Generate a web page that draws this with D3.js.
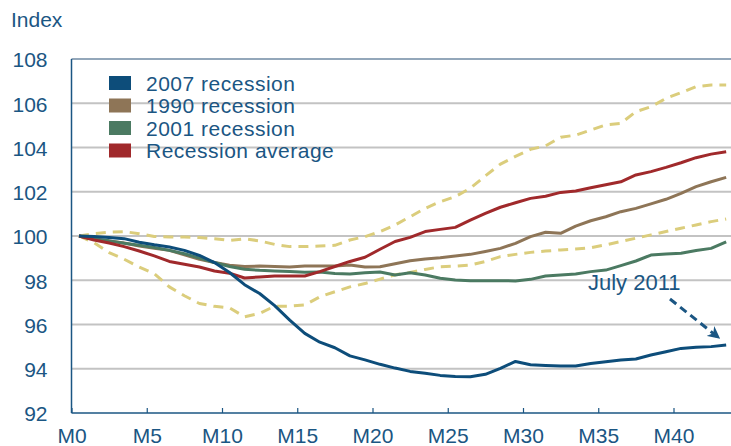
<!DOCTYPE html>
<html>
<head>
<meta charset="utf-8">
<script src="https://cdn.jsdelivr.net/npm/d3@7"></script>
<style>
  html, body { margin: 0; padding: 0; background: #fff; }
  svg { display: block; }
  text { font-family: "Liberation Sans", Arial, sans-serif; }
</style>
</head>
<body>
<svg id="chart" width="731" height="446"></svg>
<script>
// Employment index, months after business-cycle peak (peak = 100)
const months = d3.range(44); // M0 .. M43

const recession2007 = [100, 99.98, 99.93, 99.88, 99.72, 99.6, 99.5, 99.35, 99.12, 98.8,
  98.35, 97.8, 97.4, 96.85, 96.2, 95.6, 95.2, 94.95, 94.58, 94.4,
  94.2, 94.03, 93.88, 93.8, 93.7, 93.65, 93.64, 93.75, 94.02, 94.33,
  94.18, 94.15, 94.12, 94.12, 94.24, 94.32, 94.4, 94.44, 94.62, 94.77,
  94.92, 94.97, 95.0, 95.07];

const recession1990 = [100, 99.88, 99.78, 99.68, 99.55, 99.45, 99.35, 99.15, 98.95, 98.8,
  98.68, 98.62, 98.64, 98.62, 98.6, 98.64, 98.64, 98.64, 98.69, 98.6,
  98.61, 98.75, 98.88, 98.96, 99.02, 99.1, 99.17, 99.3, 99.44, 99.67,
  99.97, 100.17, 100.12, 100.45, 100.69, 100.87, 101.1, 101.25, 101.45, 101.66,
  101.93, 102.23, 102.45, 102.65];

const recession2001 = [100, 99.85, 99.78, 99.67, 99.58, 99.48, 99.35, 99.2, 99.0, 98.8,
  98.62, 98.5, 98.45, 98.42, 98.39, 98.36, 98.37, 98.31, 98.28, 98.34,
  98.37, 98.24, 98.34, 98.24, 98.09, 98.01, 97.98, 97.98, 97.98, 97.97,
  98.04, 98.19, 98.24, 98.28, 98.39, 98.46, 98.66, 98.87, 99.14, 99.19,
  99.22, 99.34, 99.44, 99.74];

const recessionAverage = [100, 99.82, 99.68, 99.52, 99.32, 99.1, 98.85, 98.72, 98.6, 98.42,
  98.32, 98.1, 98.15, 98.19, 98.19, 98.19, 98.39, 98.62, 98.85, 99.04,
  99.4, 99.75, 99.94, 100.2, 100.3, 100.39, 100.72, 101.02, 101.3, 101.5,
  101.7, 101.8, 101.97, 102.03, 102.18, 102.32, 102.45, 102.76, 102.91, 103.1,
  103.31, 103.54, 103.7, 103.81];

const rangeUpper = [100, 100.11, 100.17, 100.2, 100.1, 99.98, 99.96, 99.96, 99.93, 99.88,
  99.8, 99.87, 99.78, 99.62, 99.52, 99.52, 99.55, 99.58, 99.82, 99.97,
  100.2, 100.5, 100.87, 101.25, 101.55, 101.78, 102.16, 102.72, 103.25, 103.6,
  103.92, 104.07, 104.46, 104.56, 104.79, 105.02, 105.09, 105.62, 105.84, 106.22,
  106.48, 106.75, 106.82, 106.82];

const rangeLower = [100, 99.7, 99.25, 98.95, 98.6, 98.3, 97.7, 97.3, 96.95, 96.82,
  96.75, 96.35, 96.5, 96.83, 96.83, 96.88, 97.25, 97.48, 97.7, 97.85,
  98.05, 98.25, 98.35, 98.49, 98.61, 98.64, 98.69, 98.85, 99.07, 99.17,
  99.26, 99.32, 99.37, 99.41, 99.47, 99.6, 99.75, 99.9, 100.05, 100.2,
  100.35, 100.5, 100.65, 100.77];

const yTicks = [92, 94, 96, 98, 100, 102, 104, 106, 108];
const xTickMonths = [0, 5, 10, 15, 20, 25, 30, 35, 40];
const xTickLabels = ["M0", "M5", "M10", "M15", "M20", "M25", "M30", "M35", "M40"];

const legendNames = ["2007 recession", "1990 recession", "2001 recession", "Recession average"];
const legendColors = ["#0d4d7a", "#8e7557", "#4b7a62", "#a0292b"];
const rangeColor = "#dbcd7c";
const inkColor = "#1b5683";

const svg = d3.select("#chart");

const plot = { left: 71.5, right: 731, top: 59, bottom: 413 };

// Months sit in the middle of their slot; tick marks fall on slot boundaries
const x = d3.scaleLinear().domain([0, 44]).range([plot.left, plot.left + 44 * 15.05]);
const y = d3.scaleLinear().domain([92, 108]).range([plot.bottom, plot.top]);
const xm = i => x(i + 0.5);

// Gridlines
svg.append("g")
  .selectAll("line")
  .data(yTicks.filter(v => v > 92 && v < 108))
  .join("line")
  .attr("x1", plot.left).attr("x2", plot.right)
  .attr("y1", d => y(d)).attr("y2", d => y(d))
  .attr("stroke", "#c3c3c3")
  .attr("stroke-width", 2);

// Top frame line
svg.append("line")
  .attr("x1", plot.left).attr("x2", plot.right)
  .attr("y1", y(108)).attr("y2", y(108))
  .attr("stroke", "#6f8aa3")
  .attr("stroke-width", 1.5);

// Y axis labels
const yAxis = d3.axisLeft(y).tickValues(yTicks).tickSize(0).tickPadding(24).tickFormat(d3.format("d"));
const gy = svg.append("g").attr("transform", `translate(${plot.left},0)`).call(yAxis);
gy.select(".domain").remove();
gy.selectAll("text")
  .attr("fill", inkColor)
  .attr("font-size", 21)
  .attr("dy", "0.38em")
  .style("font-family", "'Liberation Sans', Arial, sans-serif");

// X axis with inward ticks
const xAxis = d3.axisBottom(x)
  .tickValues(xTickMonths)
  .tickSize(-5)
  .tickPadding(15)
  .tickFormat((d, i) => xTickLabels[i]);
const gx = svg.append("g").attr("transform", `translate(0,${plot.bottom})`).call(xAxis);
gx.select(".domain").remove();
gx.selectAll(".tick line").attr("stroke", inkColor).attr("stroke-width", 1.2);
gx.selectAll("text")
  .attr("fill", inkColor)
  .attr("font-size", 21)
  .style("font-family", "'Liberation Sans', Arial, sans-serif");

// Axis lines
svg.append("line")
  .attr("x1", plot.left).attr("x2", plot.left)
  .attr("y1", plot.top).attr("y2", plot.bottom)
  .attr("stroke", inkColor).attr("stroke-width", 1.5);
svg.append("line")
  .attr("x1", plot.left).attr("x2", plot.right)
  .attr("y1", plot.bottom).attr("y2", plot.bottom)
  .attr("stroke", inkColor).attr("stroke-width", 1.5);

// Axis title
svg.append("text")
  .attr("x", 11).attr("y", 27)
  .attr("fill", inkColor)
  .attr("font-size", 21)
  .text("Index");

const line = d3.line().x((d, i) => xm(months[i])).y(d => y(d));

// Range bounds (dashed)
[rangeUpper, rangeLower].forEach(series => {
  svg.append("path")
    .datum(series)
    .attr("d", line)
    .attr("fill", "none")
    .attr("stroke", rangeColor)
    .attr("stroke-width", 3)
    .attr("stroke-dasharray", "10,7")
    .attr("stroke-linejoin", "round");
});

// Recession lines
const seriesList = [recession1990, recession2001, recessionAverage, recession2007];
const seriesColors = [legendColors[1], legendColors[2], legendColors[3], legendColors[0]];
seriesList.forEach((series, k) => {
  svg.append("path")
    .datum(series)
    .attr("d", line)
    .attr("fill", "none")
    .attr("stroke", seriesColors[k])
    .attr("stroke-width", 3)
    .attr("stroke-linejoin", "round");
});

// Legend
const legend = svg.append("g").attr("transform", "translate(109,76)");
const rows = legend.selectAll("g")
  .data(legendNames)
  .join("g")
  .attr("transform", (d, i) => `translate(0,${i * 22.5})`);
rows.append("rect")
  .attr("width", 22).attr("height", 14)
  .attr("fill", (d, i) => legendColors[i]);
rows.append("text")
  .attr("x", 37).attr("y", 14.5)
  .attr("fill", inkColor)
  .attr("font-size", 21)
  .attr("letter-spacing", "0.5")
  .text(d => d);

// Annotation for the latest month
const lastIdx = months.length - 1;
svg.append("defs").append("marker")
  .attr("id", "arrow")
  .attr("viewBox", "0 0 10 10")
  .attr("refX", 9).attr("refY", 5)
  .attr("markerWidth", 4.2).attr("markerHeight", 4.2)
  .attr("markerUnits", "strokeWidth")
  .attr("orient", "auto")
  .append("path")
  .attr("d", "M0,0 L10,5 L0,10 L3,5 Z")
  .attr("fill", inkColor);

svg.append("text")
  .attr("x", 588).attr("y", 290)
  .attr("fill", inkColor)
  .attr("font-size", 22)
  .text("July 2011");

svg.append("line")
  .attr("x1", 670).attr("y1", 299)
  .attr("x2", xm(months[lastIdx]) - 7).attr("y2", y(recession2007[lastIdx]) - 7)
  .attr("stroke", inkColor)
  .attr("stroke-width", 3)
  .attr("stroke-dasharray", "8,5")
  .attr("marker-end", "url(#arrow)");
</script>
</body>
</html>
